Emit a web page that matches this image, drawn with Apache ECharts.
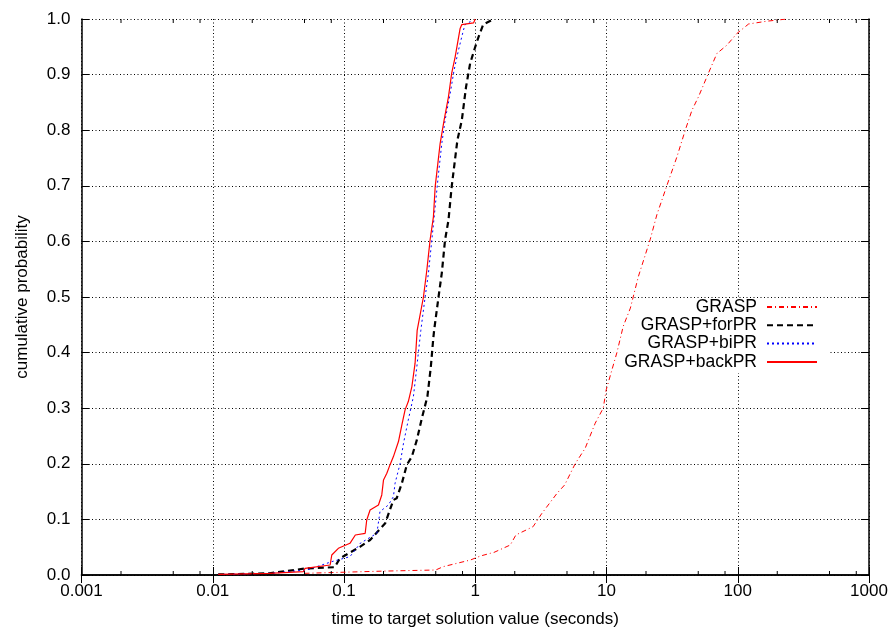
<!DOCTYPE html>
<html>
<head>
<meta charset="utf-8">
<script src="https://cdn.jsdelivr.net/npm/echarts@6/dist/echarts.min.js"></script>
<style>
  html, body { margin: 0; padding: 0; background: #fff; }
  #chart { width: 893px; height: 631px; }
</style>
</head>
<body>
<div id="chart"></div>
<script>
// Empirical run-time distributions: [time in seconds, cumulative probability]
const grasp = [
  [0.05, 0.003], [0.07, 0.004], [0.2, 0.007], [0.5, 0.009], [0.57, 0.015], [0.92, 0.027],
  [1.09, 0.034], [1.3, 0.039], [1.37, 0.04], [1.85, 0.054], [2.04, 0.072], [2.76, 0.087],
  [3.2, 0.11], [4.2, 0.147], [4.8, 0.162], [5.77, 0.2], [6.88, 0.228], [8.2, 0.273],
  [9.44, 0.30], [9.95, 0.333], [11.0, 0.369], [12.0, 0.40], [13.4, 0.447], [15.2, 0.48],
  [17.5, 0.537], [21.5, 0.603], [24.2, 0.648], [28.9, 0.701], [34.4, 0.752], [39.8, 0.80],
  [44.8, 0.836], [50.2, 0.86], [58.2, 0.896], [63.5, 0.917], [69.4, 0.938], [82.7, 0.953],
  [98.6, 0.974], [120.9, 0.991], [166, 0.996], [237, 1.0]
];
const graspForPR = [
  [0.011, 0.001], [0.027, 0.003], [0.052, 0.012], [0.085, 0.014], [0.093, 0.03], [0.133, 0.051],
  [0.158, 0.063], [0.206, 0.093], [0.238, 0.135], [0.252, 0.138], [0.276, 0.165], [0.301, 0.198],
  [0.329, 0.213], [0.359, 0.243], [0.392, 0.282], [0.432, 0.321], [0.459, 0.375], [0.479, 0.426],
  [0.486, 0.44], [0.525, 0.50], [0.556, 0.543], [0.589, 0.603], [0.625, 0.638], [0.661, 0.698],
  [0.731, 0.782], [0.79, 0.818], [0.851, 0.878], [0.914, 0.92], [1.0, 0.95], [1.06, 0.968],
  [1.15, 0.99], [1.38, 1.0]
];
const graspBiPR = [
  [0.011, 0.001], [0.027, 0.003], [0.052, 0.009], [0.0807, 0.024], [0.111, 0.033], [0.133, 0.057],
  [0.178, 0.075], [0.188, 0.114], [0.218, 0.126], [0.238, 0.141], [0.245, 0.165], [0.268, 0.201],
  [0.284, 0.237], [0.309, 0.279], [0.338, 0.321], [0.359, 0.375], [0.385, 0.44], [0.415, 0.50],
  [0.44, 0.543], [0.467, 0.603], [0.495, 0.662], [0.525, 0.722], [0.556, 0.776], [0.589, 0.818],
  [0.644, 0.866], [0.69, 0.908], [0.745, 0.944], [0.813, 0.98], [0.837, 0.99], [0.914, 0.995],
  [0.95, 1.0]
];
const graspBackPR = [
  [0.011, 0.001], [0.027, 0.003], [0.049, 0.006], [0.0505, 0.012], [0.0784, 0.018], [0.0807, 0.036],
  [0.0906, 0.048], [0.111, 0.057], [0.122, 0.072], [0.145, 0.075], [0.149, 0.099], [0.158, 0.117],
  [0.183, 0.126], [0.194, 0.144], [0.2, 0.171], [0.212, 0.183], [0.224, 0.198], [0.238, 0.213],
  [0.26, 0.24], [0.276, 0.27], [0.292, 0.297], [0.309, 0.312], [0.329, 0.339], [0.348, 0.381],
  [0.361, 0.44], [0.403, 0.50], [0.428, 0.549], [0.453, 0.603], [0.48, 0.644], [0.495, 0.698],
  [0.54, 0.776], [0.579, 0.818], [0.625, 0.86], [0.661, 0.902], [0.703, 0.932], [0.767, 0.983],
  [0.79, 0.99], [0.97, 0.993], [1.0, 1.0]
];

const seriesNames = ['GRASP', 'GRASP+forPR', 'GRASP+biPR', 'GRASP+backPR'];
const xTickLabels = ['0.001', '0.01', '0.1', '1', '10', '100', '1000'];
// minor ticks drawn at 2, 5 and 8 of every decade
const xMinorTicks = [
  0.002, 0.005, 0.008, 0.02, 0.05, 0.08, 0.2, 0.5, 0.8,
  2, 5, 8, 20, 50, 80, 200, 500, 800
];

const FONT = "'Liberation Sans', Arial, Helvetica, sans-serif";
const gridDots = { color: '#000', width: 1, type: [1, 2.5] };

const chart = echarts.init(document.getElementById('chart'), null, { renderer: 'canvas' });

chart.setOption({
  animation: false,
  backgroundColor: '#fff',
  grid: { left: 81.5, right: 24, top: 19, bottom: 56, containLabel: false, outerBoundsMode: 'none' },
  legend: {
    data: seriesNames,
    orient: 'vertical',
    align: 'right',
    right: 63,
    top: 298,
    z: 1,
    padding: [0, 12, 2, 11],
    backgroundColor: '#fff',
    itemWidth: 50,
    itemHeight: 14,
    itemGap: 0.3,
    selectedMode: false,
    itemStyle: { opacity: 0, borderWidth: 0 },
    textStyle: { fontFamily: FONT, fontSize: 17.5, color: '#000', lineHeight: 14, padding: [0, 5, 0, 0] }
  },
  xAxis: [
    {
      type: 'log', logBase: 10, min: 0.001, max: 1000, interval: 1,
      name: 'time to target solution value (seconds)', nameLocation: 'middle', nameGap: 36,
      nameTextStyle: { fontFamily: FONT, fontSize: 17, color: '#000' },
      axisLine: { show: true, lineStyle: { color: '#000', width: 1.5 } },
      axisTick: { show: true, inside: true, length: 8, lineStyle: { color: '#000', width: 1 } },
      axisLabel: {
        fontFamily: FONT, fontSize: 17, color: '#000', margin: 8,
        formatter: (v, i) => xTickLabels[i]
      },
      splitLine: { show: true, lineStyle: gridDots }
    },
    {
      type: 'log', logBase: 10, min: 0.001, max: 1000, interval: 1, position: 'top',
      axisLine: { show: true, lineStyle: { color: '#000', width: 1.5 } },
      axisTick: { show: true, inside: true, length: 8, lineStyle: { color: '#000', width: 1 } },
      axisLabel: { show: false }, splitLine: { show: false }
    }
  ],
  yAxis: [
    {
      type: 'value', min: 0, max: 1, interval: 0.1,
      name: 'cumulative probability', nameLocation: 'middle', nameGap: 51,
      nameTextStyle: { fontFamily: FONT, fontSize: 17, color: '#000' },
      axisLine: { show: true, lineStyle: { color: '#000', width: 1.5 } },
      axisTick: { show: true, inside: true, length: 8, lineStyle: { color: '#000', width: 1 } },
      axisLabel: {
        fontFamily: FONT, fontSize: 17, color: '#000', margin: 11,
        formatter: v => v.toFixed(1)
      },
      splitLine: { show: true, lineStyle: gridDots }
    },
    {
      type: 'value', min: 0, max: 1, interval: 0.1, position: 'right',
      axisLine: { show: true, lineStyle: { color: '#000', width: 1.5 } },
      axisTick: { show: true, inside: true, length: 8, lineStyle: { color: '#000', width: 1 } },
      axisLabel: { show: false }, splitLine: { show: false }
    }
  ],
  series: [
    {
      name: 'minor ticks', type: 'custom', silent: true, z: 5, clip: false,
      data: xMinorTicks.map(v => [v, 0]),
      encode: { x: 0, y: 1 },
      renderItem: (params, api) => {
        const bottom = api.coord([api.value(0), 0]);
        const top = api.coord([api.value(0), 1]);
        const st = { stroke: '#000', lineWidth: 1 };
        return {
          type: 'group',
          children: [
            { type: 'line', shape: { x1: bottom[0], y1: bottom[1], x2: bottom[0], y2: bottom[1] - 4 }, style: st },
            { type: 'line', shape: { x1: top[0], y1: top[1], x2: top[0], y2: top[1] + 4 }, style: st }
          ]
        };
      }
    },
    {
      name: seriesNames[0], type: 'line', data: grasp, symbol: 'none', showSymbol: false, z: 3,
      lineStyle: { color: '#ff0000', width: 1, type: [5, 3, 1, 3] },
      itemStyle: { color: '#ff0000' }
    },
    {
      name: seriesNames[1], type: 'line', data: graspForPR, symbol: 'none', showSymbol: false, z: 3,
      lineStyle: { color: '#000', width: 2.2, type: [6, 4] },
      itemStyle: { color: '#000' }
    },
    {
      name: seriesNames[2], type: 'line', data: graspBiPR, symbol: 'none', showSymbol: false, z: 3,
      lineStyle: { color: '#0000ff', width: 1, type: [2, 3] },
      itemStyle: { color: '#0000ff' }
    },
    {
      name: seriesNames[3], type: 'line', data: graspBackPR, symbol: 'none', showSymbol: false, z: 4,
      lineStyle: { color: '#ff0000', width: 1.2 },
      itemStyle: { color: '#ff0000' }
    }
  ]
});
</script>
</body>
</html>
